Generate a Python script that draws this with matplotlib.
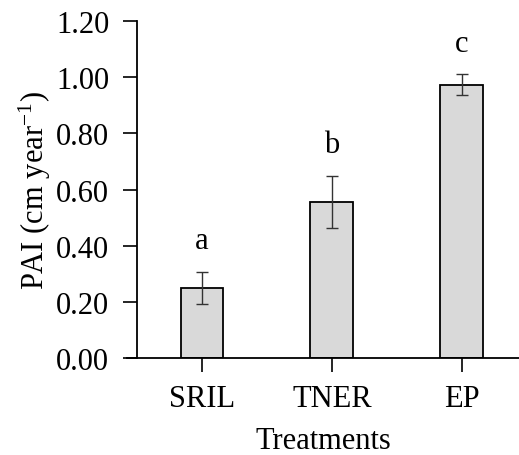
import numpy as np
import matplotlib.pyplot as plt

plt.rcParams['font.family'] = ['Liberation Serif', 'DejaVu Serif']
plt.rcParams['mathtext.fontset'] = 'stix'

treatments = ['SRIL', 'TNER', 'EP']
pai = [0.248, 0.556, 0.973]
err = [0.057, 0.092, 0.037]
letters = ['a', 'b', 'c']

fig = plt.figure(figsize=(5.19, 4.56), dpi=100)
ax = fig.add_axes([127/519, 97/456, 392/519, 337/456])
x = np.arange(len(treatments))
ax.bar(x, pai, width=0.33, color='#d9d9d9', edgecolor='black', linewidth=1.3,
       yerr=err, error_kw=dict(ecolor='#333333', elinewidth=1.0, capsize=4.5, capthick=1.0))
for i in range(len(x)):
    ax.text(x[i], pai[i] + err[i] + 0.06, letters[i], ha='center', va='bottom', fontsize=22)

ax.set_xlim(-0.577, 2.44)
ax.set_ylim(0, 1.2)
ax.spines['left'].set_position(('data', -0.5))
ax.set_yticks(np.arange(0, 1.21, 0.2))
ax.set_yticklabels(['%.2f' % v for v in np.arange(0, 1.21, 0.2)])
ax.set_xticks(x)
ax.set_xticklabels(treatments)
ax.tick_params(labelsize=22, length=10, width=1.2)
ax.tick_params(axis='y', pad=10)
ax.tick_params(axis='x', pad=9)
ax.spines['top'].set_visible(False)
ax.spines['right'].set_visible(False)
ax.spines['left'].set_linewidth(1.3)
ax.spines['bottom'].set_linewidth(1.3)
ax.set_xlabel('Treatments', fontsize=22, labelpad=9)
ax.set_ylabel('PAI (cm year$^{\\mathregular{-1}}$)', fontsize=22, labelpad=2)

fig.savefig('out.png', dpi=100)
